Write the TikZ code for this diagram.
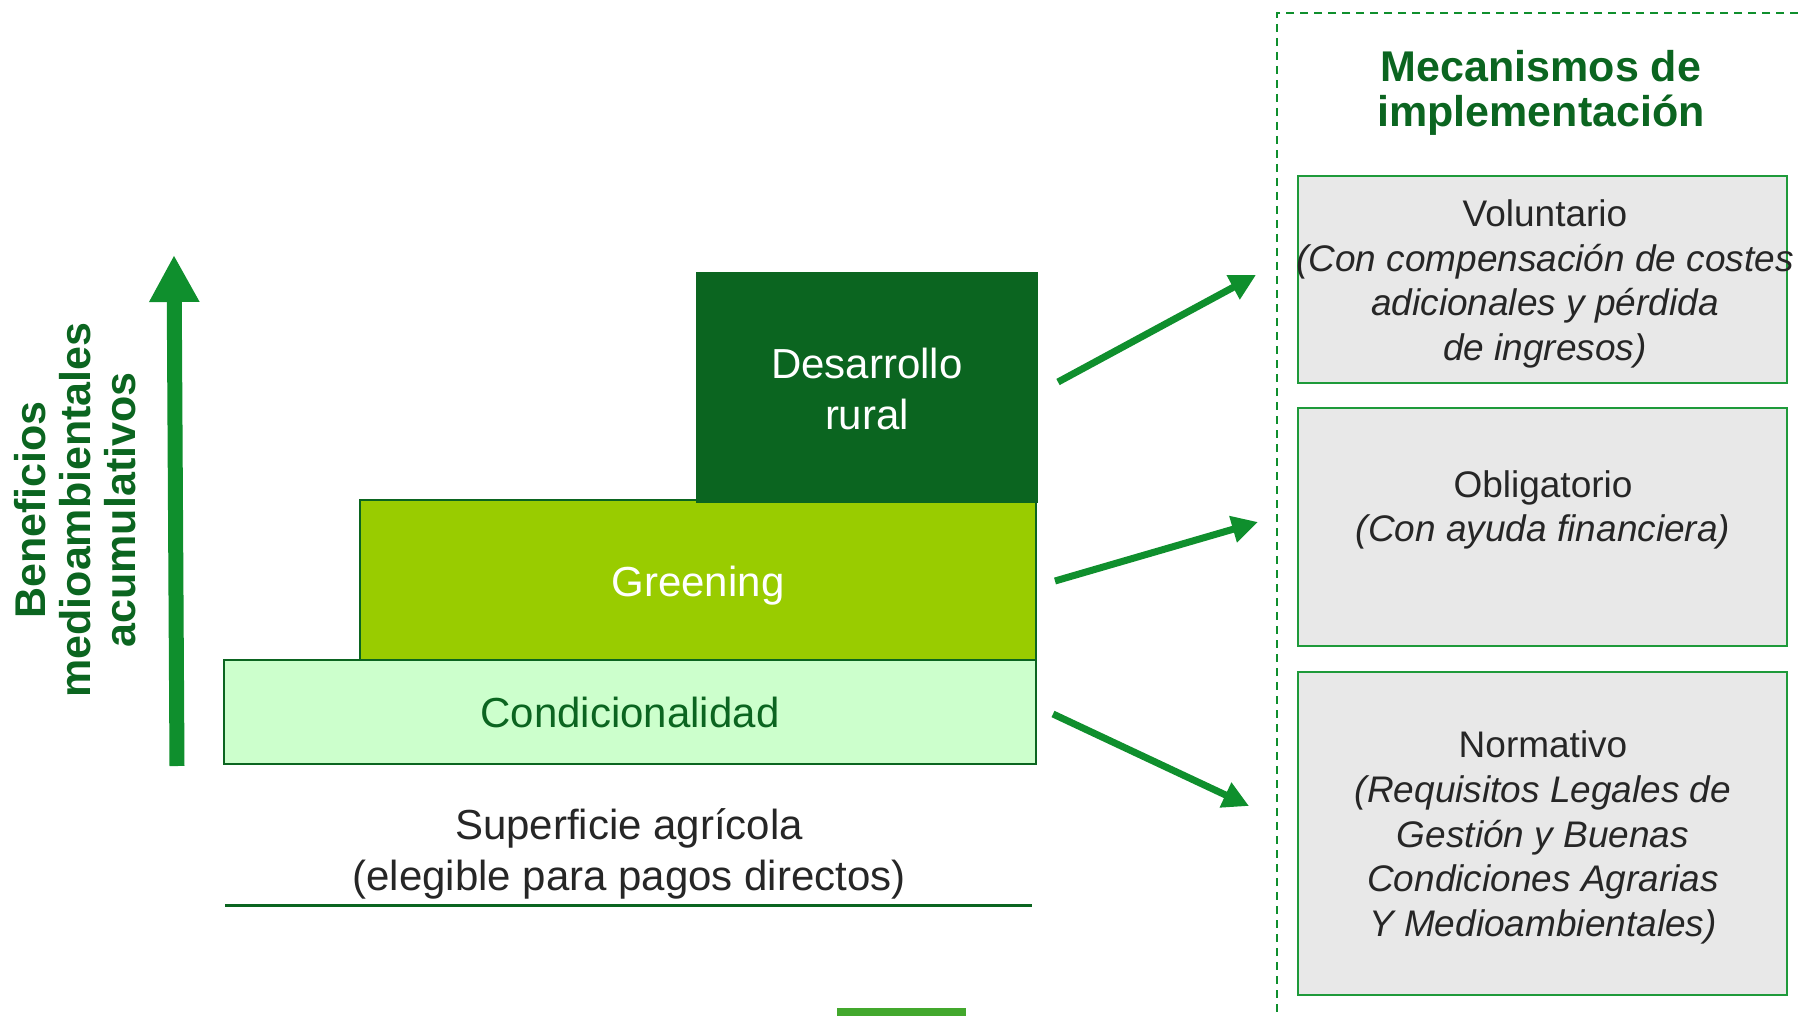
\documentclass[tikz,border=0pt]{standalone}
\usepackage{fontspec}
\setmainfont{Liberation Sans}
\usetikzlibrary{arrows.meta}
\definecolor{dkgreen}{HTML}{0B6520}
\definecolor{argreen}{HTML}{0F8F2D}
\definecolor{limeg}{HTML}{99CC00}
\definecolor{pale}{HTML}{CCFFCC}
\definecolor{boxgray}{HTML}{E8E8E8}
\definecolor{boxline}{HTML}{1E9A3A}
\definecolor{txtgray}{HTML}{262626}
\definecolor{barg}{HTML}{43A82D}
\tikzset{
  block/.style={draw=dkgreen, line width=1.5pt, inner sep=0pt, align=center},
  mbox/.style={draw=boxline, fill=boxgray, line width=2pt, inner sep=0pt, minimum width=489pt},
  boxtext/.style={text=txtgray, align=center, font=\fontsize{37}{44.7}\selectfont},
  sidearrow/.style={argreen, line width=7pt, -{Triangle[length=26pt,width=26pt]}},
}
\begin{document}
\begin{tikzpicture}[x=1pt,y=-1pt]
\useasboundingbox (0,0) rectangle (1798,1016);
% left arrow and label
\coordinate (vb) at (177,766);
\coordinate (vt) at (174,255);
\draw[argreen, line width=15pt, -{Triangle[length=47pt,width=47pt]}] (vb) -- (vt);
\node[rotate=90, align=center, text=dkgreen, font=\bfseries\fontsize{43}{45}\selectfont] (lbl) at (75,510) {Beneficios\\medioambientales\\acumulativos};
% blocks
\node[block, fill=pale, minimum width=812pt, minimum height=104pt, text=dkgreen, font=\fontsize{42}{48}\selectfont] (cond) at (630,712) {Condicionalidad};
\node[block, fill=limeg, minimum width=676pt, minimum height=160pt] (green) at (698,580) {};
\node[text=white, font=\fontsize{42}{48}\selectfont] (greent) at (698,586) {Greening};
\node[block, draw=dkgreen, fill=dkgreen, minimum width=340pt, minimum height=229pt] (dr) at (867,387.5) {};
\node[align=center, text=white, font=\fontsize{42}{51}\selectfont] (drt) at (867,389) {Desarrollo\\rural};
% surface
\node[align=center, text=txtgray, font=\fontsize{42}{51}\selectfont] (sup) at (629,854) {Superficie agrícola\\(elegible para pagos directos)};
\coordinate (l1) at (225,905);
\coordinate (l2) at (1032,905);
\draw[dkgreen, line width=3pt] (l1) -- (l2);
% dashed frame
\coordinate (d1) at (1798,13);
\coordinate (d2) at (1277,13);
\coordinate (d3) at (1277,1016);
\draw[argreen, line width=2pt, dash pattern=on 8pt off 6pt] (d1) -- (d2) -- (d3);
% title
\node[align=center, text=dkgreen, font=\bfseries\fontsize{43}{45}\selectfont] (title) at (1541,92.5) {Mecanismos de\\implementación};
% boxes
\node[mbox, minimum height=207pt] (b1) at (1542.5,279.5) {};
\node[boxtext] (t1) at (1545,284) {Voluntario\\\textit{(Con compensación de costes}\\\textit{adicionales y pérdida}\\\textit{de ingresos)}};
\node[mbox, minimum height=238pt] (b2) at (1542.5,527) {};
\node[boxtext] (t2) at (1543,510) {Obligatorio\\\textit{(Con ayuda financiera)}};
\node[mbox, minimum height=323pt] (b3) at (1542.5,833.5) {};
\node[boxtext] (t3) at (1543,837.5) {Normativo\\\textit{(Requisitos Legales de}\\\textit{Gestión y Buenas}\\\textit{Condiciones Agrarias}\\\textit{Y Medioambientales)}};
% side arrows
\coordinate (a1s) at (1058,382);
\coordinate (a1e) at (1256,275);
\coordinate (a2s) at (1055,581);
\coordinate (a2e) at (1258,522);
\coordinate (a3s) at (1053,714);
\coordinate (a3e) at (1249,806);
\draw[sidearrow] (a1s) -- (a1e);
\draw[sidearrow] (a2s) -- (a2e);
\draw[sidearrow] (a3s) -- (a3e);
% bottom bar
\fill[barg] (837,1008) rectangle (966,1016);
\end{tikzpicture}
\end{document}
